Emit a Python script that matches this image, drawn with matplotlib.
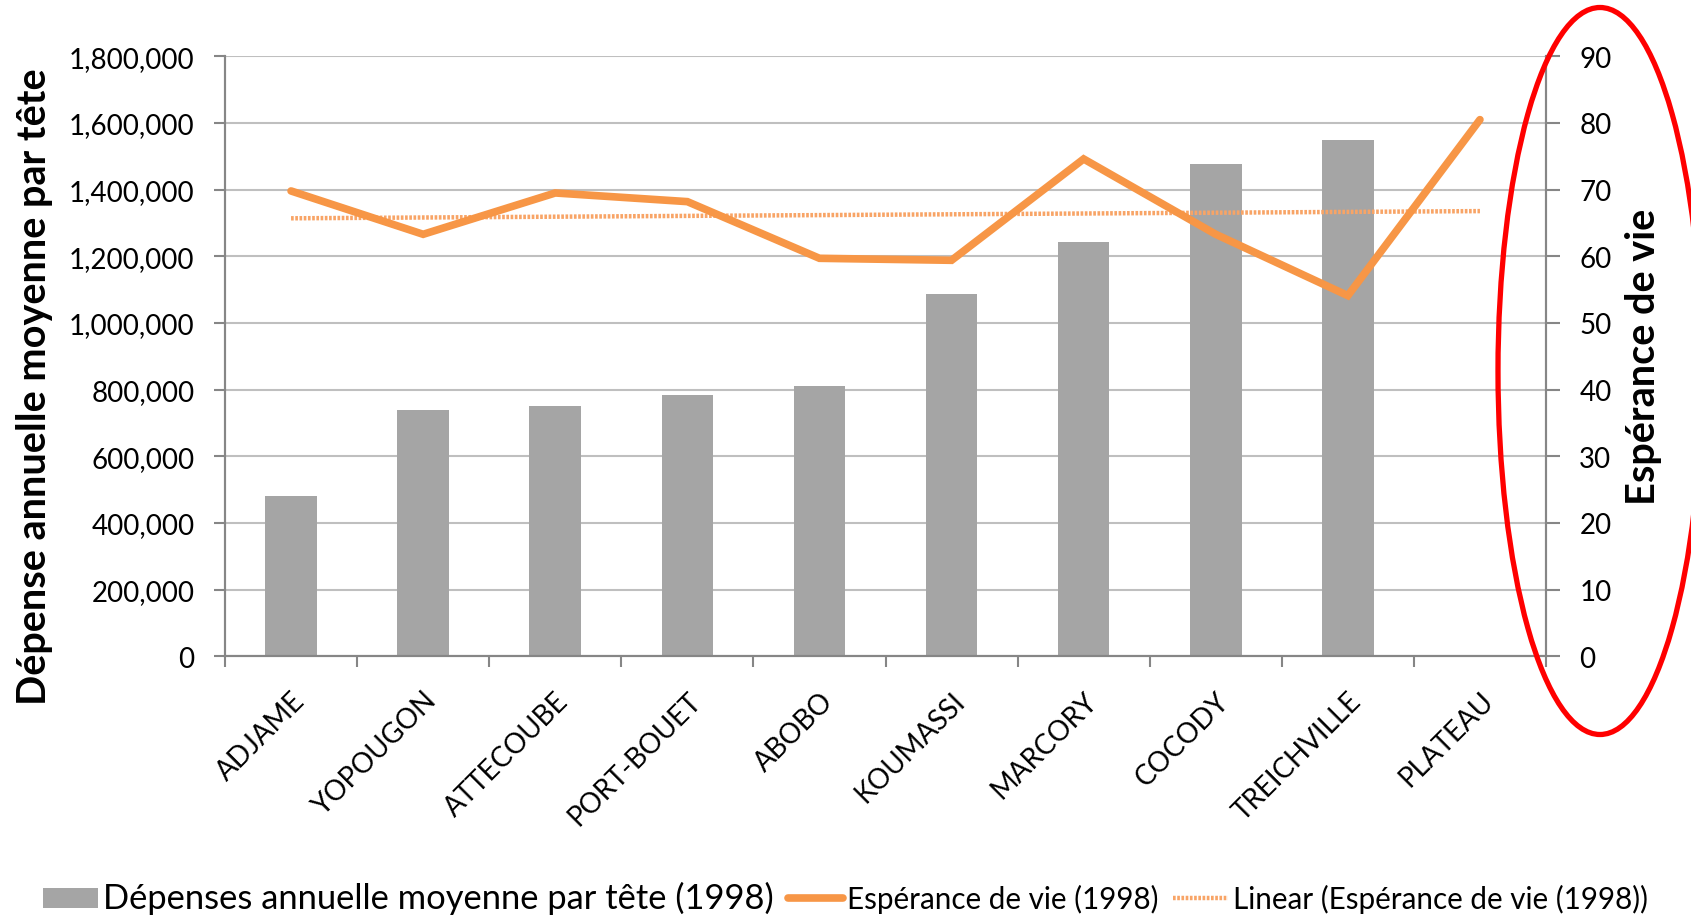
import numpy as np
import matplotlib.pyplot as plt
from matplotlib.patches import Ellipse, Patch
from matplotlib.lines import Line2D
from matplotlib.ticker import FuncFormatter

plt.rcParams['font.family'] = ['Lato', 'DejaVu Sans']

communes = ['ADJAME', 'YOPOUGON', 'ATTECOUBE', 'PORT-BOUET', 'ABOBO',
            'KOUMASSI', 'MARCORY', 'COCODY', 'TREICHVILLE', 'PLATEAU']
depenses = [482000, 738000, 752000, 784000, 812000,
            1088000, 1244000, 1476000, 1549000, np.nan]
esperance = [69.8, 63.3, 69.5, 68.2, 59.7, 59.4, 74.6, 63.3, 54.1, 80.5]

x = np.arange(len(communes))
# tendance lineaire comme dans Excel
coef = np.polyfit(x, esperance, 1)
trend = np.polyval(coef, x)

fig = plt.figure(figsize=(16.91, 9.2), dpi=100)
ax = fig.add_axes([225/1691, 1-657.3/920, (1546-225)/1691, 600/920])
ax2 = ax.twinx()

grey_axis = '#868686'
orange = '#F79646'
orange_light = '#F8A466'

ax.bar(x, depenses, width=0.39, color='#A5A5A5', zorder=2)
ax.set_ylim(0, 1800000)
ax.set_xlim(-0.5, 9.5)
ax.set_yticks(np.arange(0, 1800001, 200000))
ax.yaxis.set_major_formatter(FuncFormatter(lambda v, p: f'{int(v):,}'))
ax.grid(axis='y', color='#BFBFBF', lw=1.5, zorder=0)
ax.set_axisbelow(True)

ax.set_xticks(np.arange(-0.5, 10, 1))
ax.set_xticklabels([])
ax.set_xticks(x, minor=True)
ax.set_xticklabels(communes, minor=True, rotation=45, ha='right', va='top',
                   rotation_mode='anchor', fontsize=20)
ax.tick_params(axis='x', which='minor', length=0, pad=22)
ax.tick_params(axis='x', which='major', length=8, width=1.5, color=grey_axis)
ax.tick_params(axis='y', length=8, width=1.5, color=grey_axis, labelsize=20, pad=14)

ax2.plot(x, esperance, color=orange, lw=5.5, solid_capstyle='round',
         solid_joinstyle='miter', zorder=4)
ax2.plot(x, trend, color=orange_light, lw=3.2, ls=(0, (0.6, 0.35)), zorder=3)
ax2.set_ylim(0, 90)
ax2.set_yticks(np.arange(0, 91, 10))
ax2.tick_params(axis='y', length=10, width=1.5, color=grey_axis, labelsize=20, pad=14)

for a in (ax, ax2):
    a.spines['top'].set_visible(False)
    for s in ('left', 'right', 'bottom'):
        a.spines[s].set_color(grey_axis)
        a.spines[s].set_linewidth(1.5)

fig.text(35/1691, 1-387/920, 'Dépense annuelle moyenne par tête', rotation=90,
         ha='center', va='center', fontsize=28.5, fontweight='bold')
fig.text(1643/1691, 1-357/920, 'Espérance de vie', rotation=90,
         ha='center', va='center', fontsize=28.5, fontweight='bold')

# cercle rouge autour de l'axe de droite
ell = Ellipse((1600/1691, 1-372/920), 204/1691, 727/920, transform=fig.transFigure,
              fill=False, edgecolor='#FF0000', lw=3.8)
fig.patches.append(ell)

handles = [Patch(facecolor='#A5A5A5'),
           Line2D([0], [0], color=orange, lw=5.5, solid_capstyle='round'),
           Line2D([0], [0], color=orange_light, lw=3.2, ls=(0, (0.6, 0.35)))]
labels = ['Dépenses annuelle moyenne par tête (1998)', 'Espérance de vie (1998)',
          'Linear (Espérance de vie (1998))']
leg = fig.legend(handles, labels, loc='lower center', bbox_to_anchor=(0.5, -0.024),
                 ncol=3, frameon=False, fontsize=21.3, handlelength=1.85,
                 handletextpad=0.15, columnspacing=0.5)
leg.get_texts()[0].set_fontsize(24.8)

fig.savefig('out.png', dpi=100)
